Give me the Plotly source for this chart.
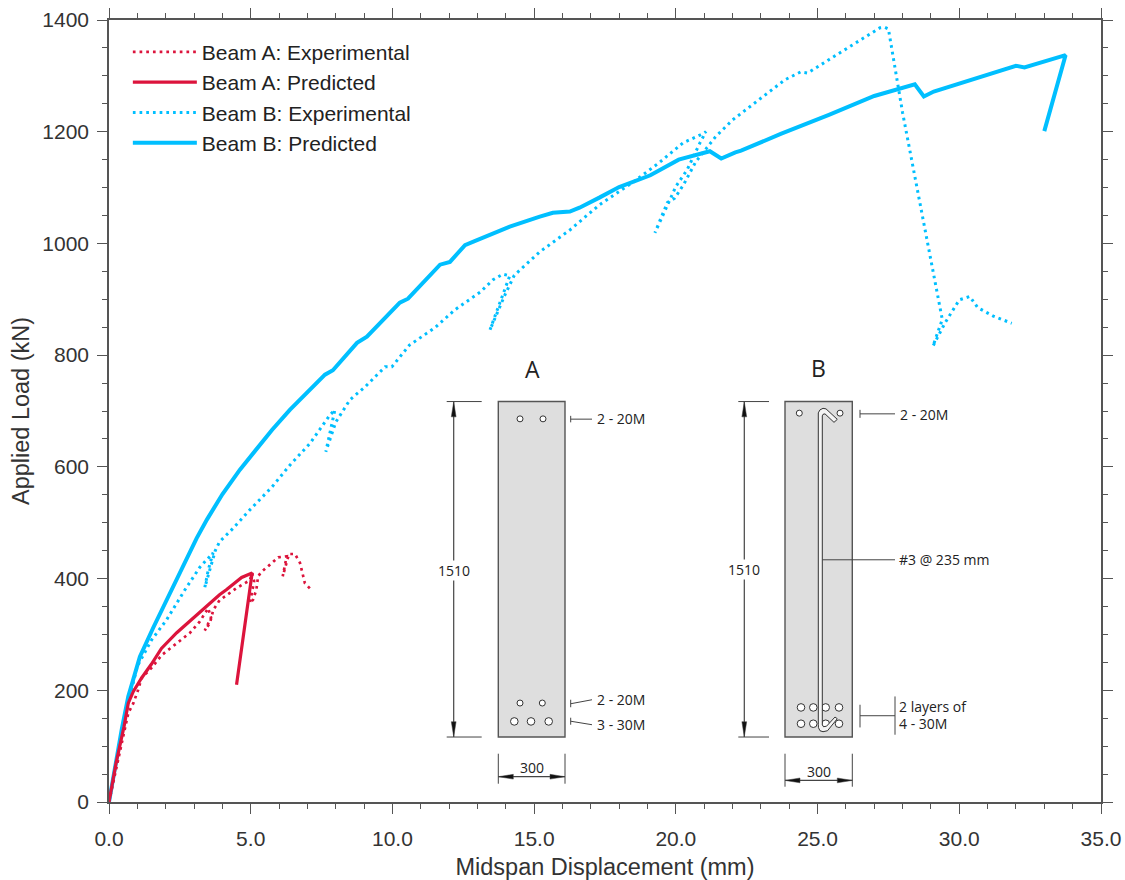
import plotly.graph_objects as go

W, H = 1125, 880
ML, MR, MT, MB = 109, 24, 20, 77.7
AX_L, AX_R, AX_T, AX_B = 109.0, 1101.0, 20.0, 802.3
SANS = "Liberation Sans, Arial, sans-serif"
INK = "#333333"
RED = "#DC143C"
BLUE = "#00BFFF"

a_exp_x = [0, 0.39, 0.68, 0.86, 1.03, 1.15, 1.5, 1.86, 2.39, 2.86, 3.2, 3.5, 3.6, 3.5, 3.38, 3.56, 3.68, 3.9, 4.5, 4.97, 5.05, 5.12, 5.05, 4.97, 5.08, 5.2, 5.26, 5.38, 5.68, 5.97, 6.27, 6.2, 6.13, 6.35, 6.56, 6.74, 6.91, 7.11]
a_exp_y = [0, 88, 159, 177, 201, 222, 240, 263, 284, 303, 323, 347, 330, 318, 307, 320, 344, 361, 383, 397, 410, 395, 375, 356, 362, 380, 404, 412, 425, 438, 440, 420, 404, 444, 444, 428, 392, 381]
a_pre_x = [0, 0.25, 0.53, 0.68, 0.86, 1.15, 1.5, 1.85, 2.39, 2.97, 3.45, 3.9, 4.14, 4.68, 5.05, 4.5]
a_pre_y = [0, 70, 135, 177, 198, 222, 247, 275, 303, 329, 351, 371, 380, 402, 410, 210]
b_exp_x = [0, 0.5, 1.0, 1.5, 2.03, 2.68, 3.2, 3.67, 3.5, 3.38, 3.75, 3.9, 4.34, 4.97, 5.75, 6.38, 7.09, 7.8, 7.97, 7.8, 7.65, 8.0, 8.5, 9.03, 9.74, 9.98, 10.6, 11.5, 12.2, 13.1, 13.55, 13.9, 14.14, 13.8, 13.44, 13.97, 14.3, 15.2, 16.26, 17.3, 18.5, 19.4, 20.25, 20.85, 21.06, 20.85, 20.4, 20.0, 19.8, 19.55, 19.26, 19.7, 19.96, 20.27, 20.7, 21.4, 22.0, 22.85, 23.85, 24.4, 24.65, 25.4, 26.5, 27.2, 27.37, 27.5, 28.0, 28.85, 29.4, 29.07, 29.5, 30.0, 30.37, 30.65, 31.2, 31.85]
b_exp_y = [0, 140, 243, 290, 326, 380, 420, 446, 415, 384, 450, 466, 488, 523, 564, 603, 642, 693, 702, 665, 627, 680, 720, 743, 779, 779, 818, 849, 881, 913, 935, 945, 942, 895, 845, 908, 943, 985, 1024, 1069, 1110, 1144, 1180, 1194, 1200, 1180, 1132, 1102, 1078, 1051, 1019, 1073, 1081, 1105, 1146, 1191, 1221, 1254, 1293, 1307, 1305, 1329, 1364, 1386, 1387, 1384, 1234, 1012, 864, 816, 858, 899, 905, 885, 870, 857]
b_pre_x = [0, 0.21, 0.45, 0.68, 0.86, 1.09, 1.56, 2.03, 2.62, 3.09, 3.46, 4.0, 4.62, 5.75, 6.38, 7.62, 7.9, 8.75, 9.1, 10.26, 10.55, 11.68, 12.03, 12.56, 12.9, 13.2, 14.14, 15.2, 15.66, 16.26, 16.6, 17.3, 18.0, 19.1, 20.1, 21.2, 21.6, 22.1, 22.3, 23.7, 25.15, 25.4, 27.0, 28.43, 28.75, 29.1, 32.0, 32.3, 33.75, 33.0]
b_pre_y = [0, 64, 130, 189, 222, 260, 312, 362, 425, 472, 506, 551, 595, 666, 702, 765, 773, 822, 833, 894, 901, 962, 967, 997, 1004, 1010, 1030, 1048, 1055, 1057, 1064, 1082, 1101, 1122, 1150, 1165, 1152, 1163, 1166, 1196, 1225, 1230, 1264, 1285, 1263, 1272, 1318, 1315, 1337, 1201]

series_names = ["Beam A: Experimental", "Beam A: Predicted", "Beam B: Experimental", "Beam B: Predicted"]
x_ticks = [0, 5, 10, 15, 20, 25, 30, 35]
y_ticks = [0, 200, 400, 600, 800, 1000, 1200, 1400]

DOTS = "2.7px,4px"
fig = go.Figure()
fig.add_trace(go.Scatter(x=b_exp_x, y=b_exp_y, name=series_names[2], mode="lines", line=dict(color=BLUE, width=3, dash=DOTS), cliponaxis=False, legendrank=3))
fig.add_trace(go.Scatter(x=b_pre_x, y=b_pre_y, name=series_names[3], mode="lines", line=dict(color=BLUE, width=4), cliponaxis=False, legendrank=4))
fig.add_trace(go.Scatter(x=a_exp_x, y=a_exp_y, name=series_names[0], mode="lines", line=dict(color=RED, width=2.7, dash=DOTS), cliponaxis=False, legendrank=1))
fig.add_trace(go.Scatter(x=a_pre_x, y=a_pre_y, name=series_names[1], mode="lines", line=dict(color=RED, width=3.2), cliponaxis=False, legendrank=2))

# --- cross-section inset, placed on the page in pixels ---
def px(v):
    return (v - AX_L) / (AX_R - AX_L)
def py(v):
    return (AX_B - v) / (AX_B - AX_T)

shapes, notes = [], []
DIM = "#444444"

def seg(x0, y0, x1, y1, w=1.0, c=DIM):
    shapes.append(dict(type="line", xref="paper", yref="paper", x0=px(x0), y0=py(y0), x1=px(x1), y1=py(y1), line=dict(color=c, width=w), layer="above"))

def poly(pts, fill, w=1.0, c=DIM):
    d = "M" + " L".join(f"{px(a):.5f},{py(b):.5f}" for a, b in pts) + " Z"
    shapes.append(dict(type="path", xref="paper", yref="paper", path=d, fillcolor=fill, line=dict(color=c, width=w), layer="above"))

def ring(cx, cy, r):
    shapes.append(dict(type="circle", xref="paper", yref="paper", x0=px(cx - r), x1=px(cx + r), y0=py(cy + r), y1=py(cy - r), fillcolor="white", line=dict(color="#333333", width=1), layer="above"))

def note(x, y, s, size=14, anchor="left", bg=None, fam="Open Sans, sans-serif"):
    notes.append(dict(xref="paper", yref="paper", x=px(x), y=py(y), text=s, showarrow=False, xanchor=anchor, yanchor="middle", font=dict(family=fam, size=size, color="#222222"), bgcolor=bg, borderpad=0))

def section(left, right, vx, ext0, ext1, by0, by1, bh, tx300y, ty1510):
    poly([(left, 401.7), (right, 401.7), (right, 737.3), (left, 737.3)], "#DEDEDE", 1.4, "#555555")
    seg(ext0, 401.7, ext1, 401.7)
    seg(ext0, 737.3, ext1, 737.3)
    seg(vx, 402, vx, 737.3, 1.2)
    poly([(vx, 402), (vx - 2.4, 417), (vx + 2.4, 417)], "#111111", 0.5)
    poly([(vx, 737), (vx - 2.4, 722), (vx + 2.4, 722)], "#111111", 0.5)
    note(vx, ty1510, "1510", anchor="center", bg="white")
    seg(left, by0, left, by1)
    seg(right, by0, right, by1)
    seg(left, bh, right, bh, 1.2)
    poly([(left, bh), (left + 15, bh - 2.4), (left + 15, bh + 2.4)], "#111111", 0.5)
    poly([(right, bh), (right - 15, bh - 2.4), (right - 15, bh + 2.4)], "#111111", 0.5)
    note((left + right) / 2, tx300y, "300", anchor="center")

# Section A
section(498.3, 565, 453.7, 446.7, 481.7, 754, 784, 777, 768, 571)
note(532.7, 369, "A", size=23, anchor="center")
for cx, cy, r in [(520, 419, 3), (543, 419, 3), (520, 703.3, 3), (542.3, 703.3, 3), (514.3, 721.7, 3.8), (531, 721.7, 3.8), (548.7, 721.7, 3.8)]:
    ring(cx, cy, r)
seg(570.7, 419.3, 592, 419.3); seg(570.7, 416, 570.7, 422.5)
seg(570.7, 704, 592, 700); seg(570.7, 700, 570.7, 707.5)
seg(570.7, 721.5, 592, 725); seg(570.7, 718, 570.7, 725)
note(595.5, 419, "2 - 20M")
note(595.5, 699.5, "2 - 20M")
note(595.5, 724.5, "3 - 30M")

# Section B
section(785, 852.3, 744.3, 738.3, 769, 754, 787, 780.7, 771.7, 570)
note(818.3, 368, "B", size=23, anchor="center")
for cx, cy, r in [(799.3, 413.3, 3), (840, 413.3, 3)]:
    ring(cx, cy, r)
for cy in (707.7, 724):
    for cx in (801, 813.3, 825.7, 839):
        ring(cx, cy, 3.8)
poly([(818.3, 725), (818.3, 413), (820, 410), (823, 408.5), (826, 409), (837.3, 419.5), (834, 422.5), (825, 414), (823, 414.5), (822.3, 416),
      (822.3, 725), (823.5, 727), (826.5, 726.5), (835, 717.3), (837.3, 719), (827.5, 731), (823, 732), (820, 731), (818.5, 728)], "#F4F4F4", 1.0, "#333333")
seg(860, 414, 895, 414); seg(860, 410, 860, 418)
seg(822.3, 560, 895, 560)
seg(860, 716, 895, 716); seg(860, 705, 860, 727.7); seg(895, 696.7, 895, 735)
note(899.3, 414.3, "2 - 20M")
note(898.3, 560, "#3 @ 235 mm")
note(897.7, 706.7, "2 layers of")
note(897.7, 723.3, "4 - 30M")

AX = dict(showline=True, linecolor="#555555", linewidth=1.5, mirror="ticks", ticks="outside", automargin=False,
          tickcolor="#555555", tickwidth=1, ticklen=10, showgrid=False, zeroline=False,
          tickfont=dict(family=SANS, size=21, color=INK))
fig.update_xaxes(**AX, range=[0, 35], tickvals=x_ticks, tickformat=".1f", ticklabelstandoff=7,
                 minor=dict(dtick=1, ticks="outside", ticklen=5, tickcolor="#555555", tickwidth=1, showgrid=False),
                 title=dict(text="Midspan Displacement (mm)", font=dict(family=SANS, size=23.5, color=INK), standoff=10))
fig.update_yaxes(**AX, range=[0, 1400], tickvals=y_ticks, ticklabelstandoff=4,
                 minor=dict(dtick=50, ticks="outside", ticklen=5, tickcolor="#555555", tickwidth=1, showgrid=False),
                 title=dict(text="Applied Load (kN)", font=dict(family=SANS, size=23.5, color=INK), standoff=6))
fig.update_layout(width=W, height=H, autosize=False, margin=dict(l=ML, r=MR, t=MT, b=MB),
                  paper_bgcolor="white", plot_bgcolor="white", shapes=shapes, annotations=notes,
                  legend=dict(x=0.019, y=0.985, xanchor="left", yanchor="top", bgcolor="rgba(0,0,0,0)",
                              itemwidth=64, font=dict(family=SANS, size=21, color="#222222"), tracegroupgap=0, traceorder="normal"))
fig.write_html("out.html", config={"displayModeBar": False}, post_script="document.body.style.margin='0';")
